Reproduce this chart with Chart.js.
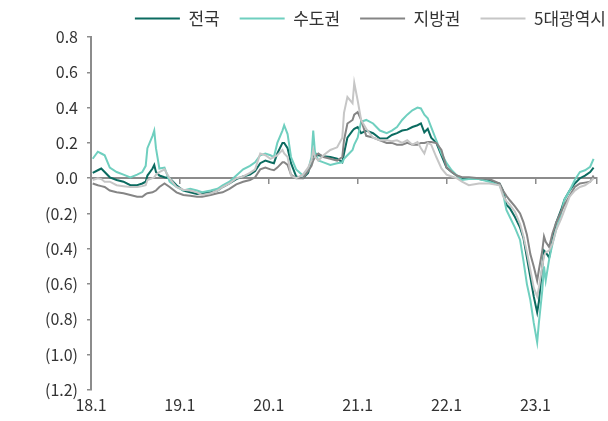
<!DOCTYPE html>
<html>
<head>
<meta charset="utf-8">
<script src="https://cdn.jsdelivr.net/npm/chart.js@4"></script>
<style>
html, body { margin: 0; padding: 0; background: #fff; }
</style>
</head>
<body>
<canvas id="lineChart" width="608" height="421"></canvas>
<script>
// weeks since 2018.1 (weekly price change, %)
var weeks = [1,4,6,8,11,15,19,23,27,30,
    32,33,36,37,38,40,43,46,50,54,
    58,62,65,70,74,77,81,85,89,93,
    96,99,102,105,107,109,112,113,115,117,
    120,124,127,129,130,131,133,136,140,144,
    147,148,150,153,154,156,158,161,165,169,
    173,176,179,182,185,188,191,193,195,197,
    199,202,205,208,211,214,217,221,227,233,
    239,241,243,245,248,251,253,255,257,259,
    261,262,264,265,266,268,270,272,275,277,
    280,283,286,289,292,294];

var nation = [0.03,0.045,0.055,0.035,0.005,-0.01,-0.02,-0.04,-0.04,-0.03,
    -0.02,0.015,0.055,0.075,0.035,0.015,0.005,0,-0.04,-0.07,
    -0.08,-0.09,-0.085,-0.08,-0.07,-0.05,-0.03,-0.005,0.01,0.02,
    0.04,0.085,0.1,0.09,0.085,0.14,0.2,0.2,0.17,0.085,
    0.01,0,0.03,0.1,0.13,0.14,0.13,0.125,0.12,0.11,
    0.09,0.14,0.23,0.27,0.28,0.29,0.255,0.27,0.255,0.225,
    0.225,0.245,0.255,0.27,0.275,0.29,0.3,0.31,0.26,0.28,
    0.23,0.2,0.13,0.06,0.035,0.015,0,0,-0.005,-0.015,
    -0.03,-0.07,-0.15,-0.17,-0.22,-0.28,-0.34,-0.45,-0.56,-0.67,
    -0.76,-0.7,-0.5,-0.41,-0.42,-0.45,-0.35,-0.255,-0.18,-0.12,
    -0.07,-0.03,0,0.015,0.035,0.06];

var capital = [0.11,0.15,0.14,0.13,0.06,0.035,0.02,0.005,0.02,0.035,
    0.07,0.17,0.24,0.27,0.17,0.055,0.06,-0.02,-0.05,-0.07,
    -0.06,-0.07,-0.08,-0.07,-0.06,-0.04,-0.02,0.015,0.05,0.07,
    0.09,0.13,0.14,0.13,0.12,0.2,0.27,0.3,0.25,0.12,
    0.05,0.015,0.045,0.12,0.27,0.15,0.1,0.09,0.075,0.085,
    0.09,0.11,0.13,0.16,0.19,0.23,0.32,0.33,0.31,0.27,
    0.255,0.27,0.29,0.33,0.36,0.385,0.4,0.395,0.36,0.34,
    0.29,0.215,0.14,0.085,0.045,0.015,-0.01,-0.005,-0.005,-0.02,
    -0.04,-0.085,-0.18,-0.22,-0.28,-0.35,-0.47,-0.6,-0.69,-0.82,
    -0.93,-0.82,-0.635,-0.5,-0.58,-0.46,-0.37,-0.295,-0.2,-0.12,
    -0.07,-0.01,0.035,0.045,0.065,0.11];

var local = [-0.03,-0.04,-0.045,-0.05,-0.07,-0.08,-0.085,-0.095,-0.105,-0.105,
    -0.09,-0.085,-0.08,-0.075,-0.07,-0.05,-0.03,-0.05,-0.08,-0.095,
    -0.1,-0.105,-0.105,-0.095,-0.085,-0.08,-0.06,-0.035,-0.02,-0.01,
    0.005,0.05,0.06,0.05,0.045,0.06,0.09,0.09,0.075,0.02,
    0,0,0.04,0.07,0.1,0.12,0.14,0.12,0.11,0.1,
    0.12,0.215,0.31,0.33,0.36,0.375,0.33,0.24,0.23,0.215,
    0.2,0.2,0.19,0.19,0.2,0.19,0.19,0.2,0.2,0.205,
    0.205,0.2,0.16,0.06,0.035,0.015,0.005,0.005,0,-0.005,
    -0.03,-0.07,-0.1,-0.125,-0.16,-0.2,-0.25,-0.32,-0.43,-0.5,
    -0.58,-0.52,-0.41,-0.33,-0.36,-0.39,-0.31,-0.255,-0.19,-0.15,
    -0.1,-0.05,-0.03,-0.025,-0.02,0.015];

var metro5 = [-0.01,0,-0.005,-0.02,-0.02,-0.04,-0.045,-0.05,-0.05,-0.045,
    -0.04,-0.01,0,0.005,0.02,0.035,0.05,0,-0.05,-0.065,
    -0.07,-0.08,-0.095,-0.085,-0.07,-0.05,-0.03,0,0.01,0.03,
    0.05,0.14,0.13,0.11,0.12,0.13,0.16,0.14,0.12,0.015,
    0,0.02,0.06,0.1,0.16,0.12,0.1,0.13,0.16,0.175,
    0.23,0.37,0.46,0.425,0.54,0.44,0.33,0.28,0.23,0.215,
    0.215,0.21,0.215,0.2,0.215,0.19,0.205,0.17,0.14,0.2,
    0.19,0.12,0.055,0.02,0.01,0,-0.02,-0.04,-0.03,-0.03,
    -0.04,-0.1,-0.13,-0.15,-0.19,-0.26,-0.33,-0.42,-0.52,-0.62,
    -0.67,-0.62,-0.5,-0.44,-0.42,-0.41,-0.37,-0.295,-0.23,-0.18,
    -0.105,-0.07,-0.05,-0.04,-0.02,0];

var yearLabels = ["18.1", "19.1", "20.1", "21.1", "22.1", "23.1"];

var FONT = "'Noto Sans CJK KR', 'Noto Sans', sans-serif";
var AXIS = '#8c8c8c';

function pts(arr) {
    return weeks.map(function(w, i) { return {x: w, y: arr[i]}; });
}

function series(label, arr, color, order) {
    return {
        label: label,
        data: pts(arr),
        borderColor: color,
        backgroundColor: color,
        borderWidth: 2,
        pointRadius: 0,
        tension: 0,
        order: order
    };
}

var chart1 = new Chart(document.getElementById('lineChart'), {
    type: 'line',
    data: {
        datasets: [
            series('전국', nation, '#0b6b60', 3),
            series('수도권', capital, '#6fcfbf', 2),
            series('지방권', local, '#858585', 1),
            series('5대광역시', metro5, '#c6c6c6', 0)
        ]
    },
    options: {
        responsive: false,
        animation: false,
        layout: { padding: { top: -10, right: -18, left: 0, bottom: 0 } },
        plugins: {
            tooltip: { enabled: false },
            legend: {
                position: 'top',
                align: 'end',
                labels: {
                    usePointStyle: true,
                    pointStyle: 'line',
                    pointStyleWidth: 45,
                    padding: 20,
                    color: '#333',
                    font: { family: FONT, size: 17 },
                    sort: function(a, b) { return a.datasetIndex - b.datasetIndex; }
                }
            }
        },
        scales: {
            x: {
                type: 'linear',
                position: 'bottom',
                min: 0,
                max: 296,
                bounds: 'data',
                grid: { display: false, drawTicks: false },
                border: { display: false },
                ticks: {
                    stepSize: 52,
                    includeBounds: false,
                    autoSkip: false,
                    maxRotation: 0,
                    padding: 5,
                    color: '#333',
                    font: { family: FONT, size: 16 },
                    callback: function(v) { return yearLabels[Math.round(v / 52)]; }
                },
                afterFit: function(s) { s.height = 31; }
            },
            x0: {
                type: 'linear',
                position: { y: 0 },
                min: 0,
                max: 296,
                bounds: 'data',
                grid: { drawOnChartArea: false, tickLength: 5, color: AXIS, lineWidth: 1.5 },
                border: { color: AXIS, width: 2 },
                ticks: { display: false, stepSize: 52, includeBounds: false }
            },
            y: {
                min: -1.2,
                max: 0.8,
                grid: { drawOnChartArea: false, tickLength: 4, color: AXIS, lineWidth: 1.5 },
                border: { color: AXIS, width: 2 },
                ticks: {
                    stepSize: 0.2,
                    padding: 9,
                    color: '#333',
                    font: { family: FONT, size: 16 },
                    callback: function(v) {
                        if (v < -1e-9) return '(' + Math.abs(v).toFixed(1) + ')';
                        return Math.abs(v).toFixed(1);
                    }
                },
                afterFit: function(s) { s.width = 91; }
            },
            yr: {
                position: 'right',
                grid: { display: false },
                border: { display: false },
                ticks: { display: false },
                afterFit: function(s) { s.width = 29; }
            }
        }
    }
});
</script>
</body>
</html>
